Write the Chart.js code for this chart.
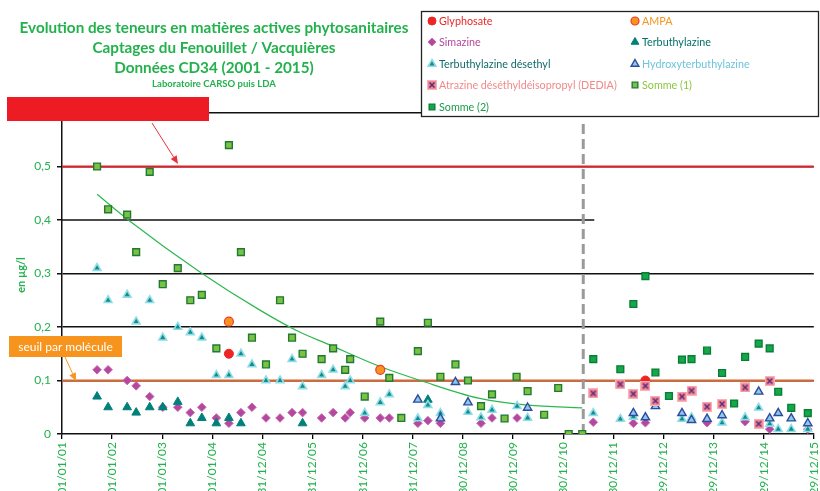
<!DOCTYPE html>
<html><head><meta charset="utf-8">
<script src="https://cdn.jsdelivr.net/npm/chart.js@4/dist/chart.umd.min.js"></script>
<style>html,body{margin:0;padding:0;background:#fff;}#wrap{width:820px;height:491px;position:relative;}</style>
</head><body><div id="wrap"><canvas id="c" width="820" height="491"></canvas></div>
<script>
// ---------- DATA ----------
const xTickLabels = ['01/01/01','01/01/02','01/01/03','01/01/04','31/12/04','31/12/05','31/12/06','31/12/07','30/12/08','30/12/09','30/12/10','30/12/11','29/12/12','29/12/13','29/12/14','29/12/15'];
const yTickLabels = ['0','0,1','0,2','0,3','0,4','0,5','0,6'];

const glyphosateX = [2004.33, 2012.64];
const glyphosateY = [0.15, 0.10];
const ampaX = [2004.33, 2007.35];
const ampaY = [0.21, 0.12];
const simazineX = [2001.70,2001.92,2002.30,2002.48,2002.75,2003.01,2003.31,2003.56,2003.79,2004.08,2004.33,2004.57,2004.79,2005.07,2005.35,2005.59,2005.80,2006.18,2006.41,2006.65,2006.75,2007.04,2007.35,2007.53,2008.10,2008.30,2008.55,2009.36,2009.58,2010.08,2011.60,2012.40,2012.64,2013.87,2014.63,2015.12,2015.88];
const simazineY = [0.12,0.12,0.10,0.09,0.07,0.05,0.05,0.04,0.05,0.03,0.02,0.04,0.05,0.03,0.03,0.04,0.04,0.03,0.04,0.03,0.04,0.03,0.03,0.03,0.02,0.025,0.02,0.02,0.03,0.03,0.022,0.02,0.021,0.021,0.023,0.009,0.009];
const terbuthylazineX = [2001.70,2001.92,2002.30,2002.48,2002.75,2003.01,2003.31,2003.56,2003.79,2004.08,2004.33,2004.57,2005.80,2008.30];
const terbuthylazineY = [0.07,0.05,0.05,0.04,0.05,0.05,0.06,0.02,0.03,0.02,0.03,0.02,0.02,0.064];
const desethylX = [2001.70,2001.92,2002.30,2002.48,2002.75,2003.01,2003.31,2003.56,2003.79,2004.08,2004.33,2004.57,2004.79,2005.07,2005.35,2005.59,2005.80,2006.18,2006.41,2006.65,2006.75,2007.04,2007.35,2007.53,2008.10,2008.30,2008.55,2009.10,2009.36,2009.58,2010.08,2010.29,2011.60,2012.14,2012.40,2013.37,2013.56,2014.17,2014.63,2014.90,2015.12,2015.29,2015.55,2015.88];
const desethylY = [0.31,0.25,0.26,0.21,0.25,0.18,0.20,0.19,0.18,0.11,0.11,0.15,0.13,0.10,0.10,0.14,0.089,0.11,0.12,0.089,0.10,0.039,0.059,0.074,0.029,0.054,0.039,0.041,0.031,0.045,0.052,0.03,0.039,0.028,0.032,0.028,0.031,0.021,0.031,0.049,0.019,0.009,0.009,0.009];
const hydroxyX = [2008.10,2008.55,2008.85,2009.10,2010.29,2012.40,2012.64,2012.84,2013.37,2013.56,2013.87,2014.17,2014.90,2015.12,2015.29,2015.55,2015.88];
const hydroxyY = [0.064,0.029,0.097,0.059,0.049,0.039,0.031,0.052,0.039,0.026,0.028,0.035,0.079,0.029,0.039,0.029,0.02];
const dediaX = [2011.60,2012.14,2012.40,2012.64,2012.84,2013.37,2013.56,2013.87,2014.17,2014.63,2014.90,2015.12];
const dediaY = [0.076,0.093,0.075,0.090,0.062,0.070,0.081,0.051,0.056,0.087,0.019,0.099];
const somme1X = [2001.70,2001.92,2002.30,2002.48,2002.75,2003.01,2003.31,2003.56,2003.79,2004.08,2004.33,2004.57,2004.79,2005.07,2005.35,2005.59,2005.80,2006.18,2006.41,2006.65,2006.75,2007.04,2007.35,2007.53,2007.77,2008.10,2008.30,2008.55,2008.85,2009.10,2009.36,2009.58,2009.83,2010.07,2010.29,2010.62,2010.90,2011.11,2011.38];
const somme1Y = [0.50,0.42,0.41,0.34,0.49,0.28,0.31,0.25,0.26,0.16,0.54,0.34,0.18,0.13,0.25,0.18,0.15,0.14,0.16,0.12,0.14,0.07,0.21,0.105,0.03,0.155,0.208,0.107,0.13,0.10,0.052,0.074,0.029,0.107,0.08,0.036,0.086,0,0];
const somme2X = [2011.60,2012.14,2012.40,2012.64,2012.84,2013.11,2013.37,2013.56,2013.87,2014.17,2014.41,2014.63,2014.90,2015.12,2015.29,2015.55,2015.88];
const somme2Y = [0.14,0.121,0.243,0.295,0.115,0.071,0.139,0.140,0.156,0.114,0.057,0.144,0.169,0.160,0.079,0.049,0.039];
const trendX = [2001.70,2002.31,2003.78,2004.94,2005.73,2006.33,2007.32,2008.18,2009.31,2010.30,2011.38];
const trendY = [0.448,0.401,0.301,0.232,0.191,0.167,0.127,0.099,0.067,0.054,0.049];
// reference lines
const limitTotal = 0.5, limitMolecule = 0.1;
const xStart = 2001, xEnd = 2016;
const labChangeX = 2011.4, labChangeTop = 0.586;
const partialGridY = 0.4, partialGridEndX = 2011.62;

// ---------- HELPERS ----------
const zip = (xs, ys) => xs.map((x, i) => ({x, y: ys[i]}));
const GREEN = '#22b14c';
const FONT = 'Lato, "Open Sans", sans-serif';

function makeDedia() {
  const c = document.createElement('canvas'); c.width = 10; c.height = 10;
  const g = c.getContext('2d');
  g.fillStyle = '#f7b3b8'; g.fillRect(0,0,10,10);
  g.fillStyle = '#f0848f'; g.fillRect(1,1,8,8);
  g.strokeStyle = '#5b2a80'; g.lineWidth = 1.5;
  g.beginPath(); g.moveTo(2.5,2.5); g.lineTo(7.5,7.5); g.moveTo(7.5,2.5); g.lineTo(2.5,7.5); g.stroke();
  return c;
}
const dediaImg = makeDedia();

const series = [
  {label:'Glyphosate', data: zip(glyphosateX, glyphosateY), pointStyle:'circle', radius:4.5, bg:'#ee2524', bd:'#ee2524', bw:1, text:'#ee2524'},
  {label:'AMPA', data: zip(ampaX, ampaY), pointStyle:'circle', radius:4.5, bg:'#f7941d', bd:'#ef3a2a', bw:1.2, text:'#f7941d'},
  {label:'Simazine', data: zip(simazineX, simazineY), pointStyle:'rectRot', radius:4.3, bg:'#b5479e', bd:'#c76bb3', bw:1, text:'#b5479e'},
  {label:'Terbuthylazine', data: zip(terbuthylazineX, terbuthylazineY), pointStyle:'triangle', radius:5, bg:'#00807a', bd:'#00807a', bw:1, text:'#00706b'},
  {label:'Terbuthylazine désethyl', data: zip(desethylX, desethylY), pointStyle:'triangle', radius:4.5, bg:'#138c8c', bd:'#8fdde6', bw:1.6, text:'#0f6b6b'},
  {label:'Hydroxyterbuthylazine', data: zip(hydroxyX, hydroxyY), pointStyle:'triangle', radius:4.8, bg:'#8cc9e8', bd:'#2e4b9e', bw:1.4, text:'#6cc5d9'},
  {label:'Atrazine déséthyldéisopropyl (DEDIA)', data: zip(dediaX, dediaY), pointStyle:dediaImg, radius:5, bg:'#f0848f', bd:'#f0848f', bw:0, text:'#f08a8a'},
  {label:'Somme (1)', data: zip(somme1X, somme1Y), pointStyle:'rect', radius:4.8, bg:'#7cc242', bd:'#1f7a35', bw:1.4, text:'#8cc63e'},
  {label:'Somme (2)', data: zip(somme2X, somme2Y), pointStyle:'rect', radius:4.8, bg:'#13a94b', bd:'#0c7d37', bw:1.4, text:'#1a9a4a'}
];

const datasets = series.map((s, i) => ({
  type:'scatter', label:s.label, data:s.data, showLine:false,
  pointStyle:s.pointStyle, pointRadius:s.radius, pointBackgroundColor:s.bg,
  pointBorderColor:s.bd, pointBorderWidth:s.bw, order: 9 - i
}));
datasets.push(
  {type:'line', label:'trend', data: zip(trendX, trendY), borderColor:'#2db84f', borderWidth:1.2, pointRadius:0, cubicInterpolationMode:'monotone', fill:false, order:20},
  {type:'line', label:'limitTotal', data:[{x:xStart,y:limitTotal},{x:xEnd,y:limitTotal}], borderColor:'#e3202a', borderWidth:2, pointRadius:0, order:22},
  {type:'line', label:'limitMol', data:[{x:xStart,y:limitMolecule},{x:xEnd,y:limitMolecule}], borderColor:'#e0652c', borderWidth:2, pointRadius:0, order:22},
  {type:'line', label:'grid04', data:[{x:xStart,y:partialGridY},{x:partialGridEndX,y:partialGridY}], borderColor:'#111', borderWidth:1.5, pointRadius:0, order:23},
  {type:'line', label:'lab', data:[{x:labChangeX,y:0},{x:labChangeX,y:labChangeTop}], borderColor:'#9a9a9a', borderWidth:3, borderDash:[10,5], pointRadius:0, order:21}
);

function arrow(ctx, x1, y1, x2, y2, color) {
  ctx.save();
  ctx.strokeStyle = color; ctx.fillStyle = color; ctx.lineWidth = 1;
  const a = Math.atan2(y2 - y1, x2 - x1), L = 8, W = 3.5;
  const bx = x2 - L*Math.cos(a), by = y2 - L*Math.sin(a);
  ctx.beginPath(); ctx.moveTo(x1, y1); ctx.lineTo(bx, by); ctx.stroke();
  ctx.beginPath(); ctx.moveTo(x2, y2);
  ctx.lineTo(bx + W*Math.sin(a), by - W*Math.cos(a));
  ctx.lineTo(bx - W*Math.sin(a), by + W*Math.cos(a));
  ctx.closePath(); ctx.fill();
  ctx.restore();
}

const decor = {
  id:'decor',
  afterDraw(chart) {
    const ctx = chart.ctx;
    ctx.save();
    // Title
    ctx.fillStyle = GREEN; ctx.textAlign = 'center'; ctx.textBaseline = 'alphabetic';
    const cx = 214;
    const fit = (txt, w, base, weight) => { ctx.font = weight + base + 'px ' + FONT; const m = ctx.measureText(txt).width; return base * w / m; };
    const s1 = fit('Evolution des teneurs en matières actives phytosanitaires', 389, 15, 'bold ');
    ctx.font = 'bold ' + s1 + 'px ' + FONT;
    ctx.fillText('Evolution des teneurs en matières actives phytosanitaires', cx, 33);
    ctx.fillText('Captages du Fenouillet / Vacquières', cx, 53);
    ctx.fillText('Données CD34 (2001 - 2015)', cx, 73);
    const s4 = fit('Laboratoire CARSO puis LDA', 124, 10, 'bold ');
    ctx.font = 'bold ' + s4 + 'px ' + FONT;
    ctx.fillText('Laboratoire CARSO puis LDA', cx, 87);

    // y axis title
    ctx.save();
    ctx.translate(21, 275); ctx.rotate(-Math.PI/2);
    ctx.font = 'bold 11px ' + FONT; ctx.textBaseline = 'middle';
    ctx.fillText('en µg/l', 0, 0);
    ctx.restore();

    // Legend box
    ctx.fillStyle = '#fff'; ctx.fillRect(421, 11, 399, 106);
    ctx.strokeStyle = '#222'; ctx.lineWidth = 1.3; ctx.strokeRect(421.5, 11.5, 397, 105);
    const cols = [432, 635], rows = [21, 42, 64, 85, 107];
    const ls = Math.min(12, fit('Atrazine déséthyldéisopropyl (DEDIA)', 178, 12, ''));
    ctx.textAlign = 'left'; ctx.textBaseline = 'middle'; ctx.font = ls + 'px ' + FONT;
    series.forEach((s, i) => {
      const x = cols[i % 2], y = rows[Math.floor(i / 2)];
      ctx.fillStyle = s.bg; ctx.strokeStyle = s.bd; ctx.lineWidth = s.bw;
      Chart.helpers.drawPoint(ctx, {pointStyle:s.pointStyle, radius: s.pointStyle === 'triangle' ? 4.5 : 4, borderWidth:s.bw, rotation:0}, x, y);
      ctx.fillStyle = s.text;
      ctx.fillText(s.label, x + 7, y + 0.5);
    });

    // Red box + arrow
    ctx.fillStyle = '#ed1c24'; ctx.fillRect(7, 97, 202, 24);
    arrow(ctx, 152, 123, 178, 164, '#e8323a');
    // Orange box + arrow
    ctx.fillStyle = '#f7941d'; ctx.fillRect(9, 336, 113, 21);
    ctx.fillStyle = '#fff'; ctx.font = '12px ' + FONT; ctx.textAlign = 'center'; ctx.textBaseline = 'middle';
    ctx.fillText('seuil par molécule', 65.5, 347);
    arrow(ctx, 65, 357, 76, 381, '#f7941d');
    ctx.restore();
  }
};

new Chart(document.getElementById('c'), {
  type:'scatter',
  data:{datasets},
  options:{
    responsive:false, animation:false, events:[],
    layout:{padding:{top:113, left:0, right:4, bottom:0}},
    plugins:{legend:{display:false}, tooltip:{enabled:false}, title:{display:false}},
    scales:{
      x:{type:'linear', min:xStart, max:xEnd,
        afterFit(s){ s.height = 57; s.paddingLeft = 0; s.paddingRight = 0; },
        afterBuildTicks(s){ s.ticks = xTickLabels.map((l, i) => ({value: xStart + i})); },
        ticks:{autoSkip:false, minRotation:90, maxRotation:90, color:GREEN, font:{family:FONT, size:12}, padding:3,
          callback:(v, i) => xTickLabels[i]},
        grid:{drawOnChartArea:false, color:'#000', lineWidth:1.3, tickLength:5, tickColor:'#000'},
        border:{color:'#111', width:1.5}
      },
      y:{min:0, max:0.6,
        afterFit(s){ s.width = 62; },
        afterBuildTicks(s){ s.ticks = yTickLabels.map((l, i) => ({value: i / 10})); },
        ticks:{color:GREEN, font:{family:FONT, size:12}, padding:6, callback:(v, i) => yTickLabels[i]},
        grid:{color:(c) => (c.index === 4 || c.index === 0) ? 'rgba(0,0,0,0)' : '#111', lineWidth:1.5, tickLength:5, tickColor:'#111'},
        border:{color:'#111', width:1.5}
      }
    }
  },
  plugins:[decor]
});
</script>
</body></html>
